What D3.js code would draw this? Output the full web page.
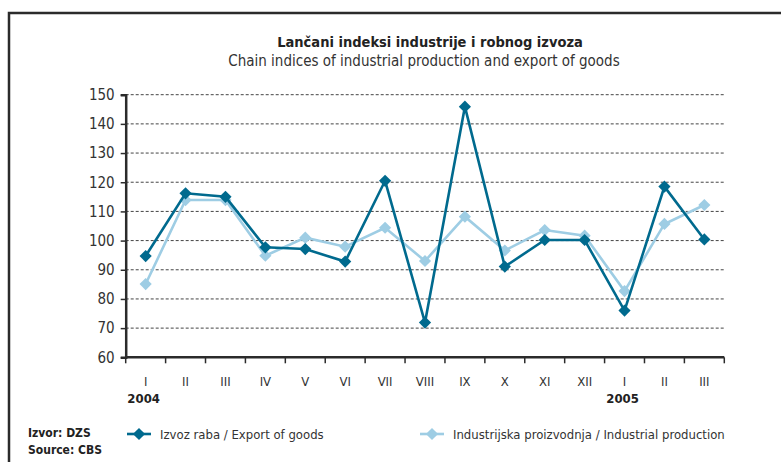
<!DOCTYPE html>
<html>
<head>
<meta charset="utf-8">
<script src="https://cdn.jsdelivr.net/npm/d3@7"></script>
<style>
  body { margin: 0; background: #fff; }
  text { font-family: "Liberation Sans Narrow", "DejaVu Sans Condensed", sans-serif; fill: #333; }
</style>
</head>
<body>
<div id="chart"></div>
<script>
// months, two years
const months = ["I","II","III","IV","V","VI","VII","VIII","IX","X","XI","XII","I","II","III"]
const years = [{label: "2004", idx: 0}, {label: "2005", idx: 12}]
const exportGoods = [94.7,116.2,115.0,97.7,97.1,92.8,120.5,71.9,145.9,91.1,100.2,100.2,76.0,118.5,100.4]
const industrial = [85.1,113.9,113.9,94.8,101.0,97.9,104.4,93.0,108.2,96.6,103.6,101.7,82.7,105.7,112.2]
const yTicks = [60,70,80,90,100,110,120,130,140,150]

const width = 781, height = 462
const margin = {top: 94.7, left: 125.7, right: 781 - 724.3, bottom: 462 - 357.3}

const svg = d3.select("#chart").append("svg")
    .attr("width", width)
    .attr("height", height)

// frame
svg.append("path")
    .attr("d", `M9,${height} L9,13 L${width},13`)
    .attr("fill", "none")
    .attr("stroke", "#2b2b2b")
    .attr("stroke-width", 2.5)

svg.append("text")
    .attr("x", 430).attr("y", 47)
    .attr("text-anchor", "middle")
    .style("font-size", "14.5px").style("font-weight", "bold").style("fill", "#222")
    .text("Lančani indeksi industrije i robnog izvoza")
svg.append("text")
    .attr("x", 424).attr("y", 66)
    .attr("text-anchor", "middle")
    .style("font-size", "15px").style("fill", "#333")
    .text("Chain indices of industrial production and export of goods")

const x = d3.scaleBand()
    .domain(d3.range(months.length))
    .range([margin.left, width - margin.right])

const y = d3.scaleLinear()
    .domain([60, 150])
    .range([height - margin.bottom, margin.top])

// grid
svg.append("g")
    .selectAll("line")
    .data(yTicks.slice(1))
    .join("line")
    .attr("x1", margin.left).attr("x2", width - margin.right)
    .attr("y1", d => y(d)).attr("y2", d => y(d))
    .attr("stroke", "#444")
    .attr("stroke-width", 1)
    .attr("stroke-dasharray", "3,2")

// y axis
const yAxis = svg.append("g")
    .attr("transform", `translate(${margin.left},0)`)
    .call(d3.axisLeft(y).tickValues(yTicks).tickSize(5).tickPadding(6))
yAxis.select(".domain").attr("stroke", "#2b2b2b").attr("stroke-width", 2.5)
yAxis.selectAll(".tick line").attr("stroke", "#2b2b2b").attr("stroke-width", 1.5)
yAxis.selectAll(".tick text").style("font-size", "15px").style("fill", "#333")

// x axis: ticks at band boundaries
const xAxis = svg.append("g")
    .attr("transform", `translate(0,${height - margin.bottom})`)
xAxis.append("line")
    .attr("x1", margin.left).attr("x2", width - margin.right)
    .attr("stroke", "#2b2b2b").attr("stroke-width", 2.5)
xAxis.selectAll(".tk")
    .data(d3.range(months.length + 1))
    .join("line")
    .attr("class", "tk")
    .attr("x1", i => i < months.length ? x(i) : x(i - 1) + x.bandwidth())
    .attr("x2", i => i < months.length ? x(i) : x(i - 1) + x.bandwidth())
    .attr("y1", 0).attr("y2", 6)
    .attr("stroke", "#2b2b2b").attr("stroke-width", 1.5)
xAxis.selectAll(".lbl")
    .data(months)
    .join("text")
    .attr("class", "lbl")
    .attr("x", (d, i) => x(i) + x.bandwidth() / 2)
    .attr("y", 29)
    .attr("text-anchor", "middle")
    .style("font-size", "13px")
    .text(d => d)
xAxis.selectAll(".yr")
    .data(years)
    .join("text")
    .attr("class", "yr")
    .attr("x", d => x(d.idx) + x.bandwidth() / 2 - 2)
    .attr("y", 46)
    .attr("text-anchor", "middle")
    .style("font-size", "13px").style("font-weight", "bold").style("fill", "#222")
    .text(d => d.label)

// series
const series = [
    {name: "Izvoz raba / Export of goods", values: exportGoods, color: "#006a8e"},
    {name: "Industrijska proizvodnja / Industrial production", values: industrial, color: "#9ecde4"}
]
const diamond = d3.symbol().type(d3.symbolDiamond2).size(95)
const line = d3.line()
    .x((d, i) => x(i) + x.bandwidth() / 2)
    .y(d => y(d))

// draw light series first, dark over it
series.slice().reverse().forEach(s => {
    const g = svg.append("g")
    g.append("path")
        .attr("d", line(s.values))
        .attr("fill", "none")
        .attr("stroke", s.color)
        .attr("stroke-width", 2.6)
    g.selectAll("path.m")
        .data(s.values)
        .join("path")
        .attr("class", "m")
        .attr("d", diamond)
        .attr("transform", (d, i) => `translate(${x(i) + x.bandwidth() / 2},${y(d)})`)
        .attr("fill", s.color)
})

// source
svg.append("text").attr("x", 28).attr("y", 437)
    .style("font-size", "12px").style("font-weight", "bold").style("fill", "#222")
    .text("Izvor: DZS")
svg.append("text").attr("x", 28).attr("y", 454)
    .style("font-size", "12px").style("font-weight", "bold").style("fill", "#222")
    .text("Source: CBS")

// legend
const legendX = [127, 420]
series.forEach((s, i) => {
    const g = svg.append("g").attr("transform", `translate(${legendX[i]},434)`)
    g.append("line").attr("x1", 0).attr("x2", 24)
        .attr("stroke", s.color).attr("stroke-width", 2.6)
    g.append("path").attr("d", diamond).attr("transform", "translate(12,0)").attr("fill", s.color)
    g.append("text").attr("x", 33).attr("y", 5)
        .style("font-size", "13px")
        .text(s.name)
})
</script>
</body>
</html>
